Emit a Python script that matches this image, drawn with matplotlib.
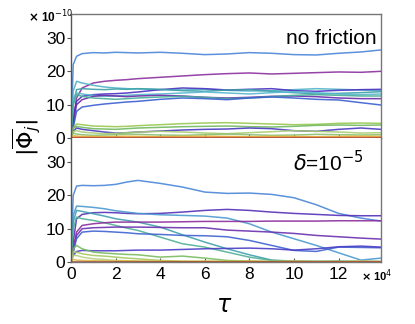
import numpy as np
import matplotlib
matplotlib.use("Agg")
import matplotlib.pyplot as plt

plt.rcParams['font.family'] = ['Liberation Sans', 'DejaVu Sans']
plt.rcParams['mathtext.fontset'] = 'dejavusans'

# time samples (x 10^4)
tau = [0, 0.1, 0.25, 0.5, 1, 1.5, 2, 2.5, 3, 4, 5, 6, 7, 8, 9, 10, 11, 12, 13, 13.9]

# no friction, |phi_j| (x 10^-10)
top_lines = [
    ('#4a86d8', [0, 22, 24.5, 25.3, 25.6, 25.5, 25.7, 25.6, 25.5, 25.7, 25.4, 25.0, 25.2, 25.6, 25.4, 25.0, 24.9, 25.4, 25.8, 26.4]),
    ('#8b2f9e', [0, 5, 12, 15, 16.5, 17, 17.3, 17.5, 17.8, 18.2, 18.6, 19.0, 19.3, 19.5, 19.2, 19.4, 19.6, 19.8, 19.7, 20.0]),
    ('#50b4c8', [0, 14, 17, 16.5, 15.8, 15.3, 15.0, 14.8, 14.7, 14.5, 14.4, 14.6, 14.3, 14.1, 14.2, 14.5, 14.8, 14.6, 14.4, 14.2]),
    ('#4a2fc0', [0, 6, 11, 12.5, 13, 13.2, 13.3, 13.5, 13.8, 14.5, 15.0, 14.8, 14.4, 14.6, 14.8, 14.2, 14.0, 14.3, 14.5, 14.6]),
    ('#3ea0a8', [0, 10, 14.5, 14.8, 14.6, 14.5, 14.7, 14.6, 14.8, 14.6, 14.2, 14.0, 14.4, 14.5, 14.0, 13.6, 13.2, 13.4, 13.6, 13.9]),
    ('#58b8d0', [0, 12, 13.5, 13.2, 12.8, 12.5, 12.6, 12.8, 13.0, 13.2, 13.5, 13.8, 13.5, 13.2, 13.6, 13.9, 13.6, 13.2, 13.0, 13.2]),
    ('#6a2aa8', [0, 4, 10, 11.5, 12.5, 12.8, 12.6, 12.4, 12.6, 12.8, 12.6, 12.2, 12.0, 12.2, 12.5, 12.6, 12.4, 12.0, 11.8, 11.8]),
    ('#48ae98', [0, 10, 13, 12.5, 12.0, 11.8, 11.6, 11.8, 12.0, 12.3, 12.5, 12.2, 11.8, 12.0, 12.4, 12.8, 13.0, 12.8, 12.6, 12.6]),
    ('#3a5ed0', [0, 3, 8, 9.3, 9.8, 10.2, 10.5, 10.8, 11.0, 11.6, 12.0, 11.8, 11.5, 12.0, 12.3, 12.0, 11.6, 11.4, 10.6, 9.9]),
    ('#98c850', [0, 3, 4.2, 4.0, 3.6, 3.5, 3.4, 3.5, 3.7, 4.0, 4.3, 4.5, 4.6, 4.4, 4.2, 4.0, 4.1, 4.4, 4.5, 4.4]),
    ('#70b860', [0, 3, 3.5, 3.2, 2.8, 2.7, 2.6, 2.8, 3.0, 3.2, 3.4, 3.5, 3.6, 3.4, 3.3, 3.5, 3.8, 3.9, 3.8, 3.9]),
    ('#4838c0', [0, 2, 3, 2.6, 2.2, 1.8, 1.5, 1.6, 1.8, 2.1, 2.4, 2.6, 2.7, 3.0, 2.8, 2.2, 2.0, 2.6, 3.0, 2.6]),
    ('#a8cc70', [0, 2, 2.2, 1.8, 1.5, 1.3, 1.4, 1.6, 1.8, 2.0, 1.8, 1.5, 1.3, 1.6, 1.9, 2.2, 2.0, 1.8, 1.5, 1.6]),
    ('#88c070', [0, 1.5, 1.2, 1.0, 0.8, 0.9, 1.0, 1.2, 1.1, 0.9, 0.8, 1.0, 1.2, 1.0, 0.8, 0.9, 1.1, 1.0, 0.9, 1.0]),
    ('#d8c050', [0, 0.8, 0.6, 0.5, 0.5, 0.4, 0.5, 0.6, 0.5, 0.4, 0.5, 0.6, 0.5, 0.4, 0.5, 0.5, 0.4, 0.5, 0.6, 0.5]),
    ('#e89030', [0, 0.3, 0.3, 0.25, 0.25, 0.25, 0.3, 0.25, 0.25, 0.3, 0.25, 0.25, 0.3, 0.25, 0.25, 0.3, 0.25, 0.25, 0.3, 0.25]),
    ('#c03020', [0.05] * 20),
]

# delta = 1e-5
bot_lines = [
    ('#4a86d8', [0, 20, 22.8, 23.0, 22.9, 23.0, 23.3, 24.0, 24.5, 23.6, 22.5, 21.0, 20.6, 20.7, 20.3, 19.3, 17.2, 14.6, 13.2, 12.3]),
    ('#5530b8', [0, 6, 13, 14.3, 14.8, 14.9, 14.8, 14.6, 14.5, 14.6, 15.0, 15.5, 15.8, 15.5, 15.0, 14.6, 14.3, 14.0, 13.9, 13.9]),
    ('#4a9ad0', [0, 14, 16.8, 16.7, 16.4, 16.0, 15.4, 15.0, 14.6, 14.2, 14.0, 13.8, 13.2, 11.5, 9.0, 7.0, 5.0, 2.8, 0.6, 1.2]),
    ('#40a0b0', [0, 12, 15.5, 15.2, 14.5, 13.8, 13.0, 12.5, 12.0, 10.5, 8.2, 6.0, 4.0, 2.2, 0.6, 0.3, 0.2, 0.3, 0.2, 0.2]),
    ('#50b098', [0, 10, 13.5, 13.0, 12.5, 11.8, 11.0, 10.2, 9.5, 7.5, 5.5, 4.5, 3.0, 1.5, 0.5, 0.2, 0.2, 0.1, 0.2, 0.1]),
    ('#8a2c9c', [0, 4, 9, 11.0, 11.5, 11.8, 12.0, 12.0, 12.0, 12.0, 12.1, 12.2, 12.2, 12.2, 12.3, 12.3, 12.3, 12.4, 12.4, 12.4]),
    ('#6b2fae', [0, 3, 8, 10.0, 10.3, 10.4, 10.5, 10.5, 10.5, 10.4, 10.3, 10.3, 9.6, 9.3, 9.0, 8.6, 8.0, 7.6, 7.2, 6.9]),
    ('#3f62d0', [0, 3, 7, 9.0, 9.3, 9.2, 9.0, 8.8, 8.5, 8.3, 8.0, 7.9, 7.6, 6.5, 5.0, 3.5, 3.2, 4.5, 4.4, 4.3]),
    ('#4a3cc6', [0, 2, 3.2, 3.5, 3.4, 3.4, 3.4, 3.5, 3.6, 3.6, 3.8, 4.0, 4.1, 4.2, 4.0, 3.6, 4.0, 4.6, 4.8, 4.5]),
    ('#78bc60', [0, 4, 5, 4.0, 3.0, 2.7, 2.5, 2.3, 2.2, 1.5, 1.8, 1.2, 0.5, 0.3, 0.2, 0.2, 0.1, 0.2, 0.1, 0.1]),
    ('#a8c860', [0, 3, 3.0, 2.5, 2.0, 1.8, 1.5, 1.2, 1.0, 0.5, 0.3, 0.2, 0.2, 0.1, 0.1, 0.1, 0.1, 0.1, 0.1, 0.1]),
    ('#b8d080', [0, 2, 2.0, 1.5, 1.0, 0.8, 0.5, 0.4, 0.3, 0.2, 0.1, 0.1, 0.1, 0.1, 0.1, 0.1, 0.1, 0.1, 0.1, 0.1]),
    ('#d8b848', [0, 0.8, 0.6, 0.5, 0.4, 0.4, 0.3, 0.4, 0.3, 0.3, 0.2, 0.3, 0.2, 0.3, 0.2, 0.3, 0.2, 0.2, 0.3, 0.2]),
    ('#a03018', [0.05] * 20),
]

yticks = [0, 10, 20, 30]
xticks = [0, 2, 4, 6, 8, 10, 12]

fig = plt.figure(figsize=(4.15, 3.24), dpi=100)
ax1 = fig.add_axes([0.171, 0.574, 0.747, 0.383])
ax2 = fig.add_axes([0.171, 0.191, 0.747, 0.383])

for ax, lines in [(ax1, top_lines), (ax2, bot_lines)]:
    for c, v in lines:
        ax.plot(tau, v, color=c, lw=1.1, alpha=0.9)
    ax.set_xlim(0, 13.9)
    ax.set_ylim(0, 37.2)
    ax.set_yticks(yticks)
    ax.set_xticks(xticks)
    ax.tick_params(axis='x', direction='in', length=3, color='#555555', labelsize=12.5)
    ax.tick_params(axis='y', direction='out', length=3, color='#555555', labelsize=12.5, pad=1)
    for s in ax.spines.values():
        s.set_color('#777777')
        s.set_linewidth(1.0)
    ax.spines['left'].set_color('#555555')

ax1.tick_params(axis='x', labelbottom=False)
ax2.spines['top'].set_visible(False)

ax1.text(0.985, 0.8, 'no friction', transform=ax1.transAxes, ha='right', va='center', fontsize=15)
ax2.text(0.945, 0.8, r'$\delta$=10$^{-5}$', transform=ax2.transAxes, ha='right', va='center', fontsize=15)

fig.text(0.065, 0.575, r'$|\overline{\Phi}_j|$', rotation=90, ha='center', va='center', fontsize=16)
fig.text(0.54, 0.055, r'$\tau$', ha='center', va='center', fontsize=17)
fig.text(0.068, 0.948, r'$\mathbf{\times}$ 10$^{-10}$', ha='left', va='center', fontsize=8.5, fontweight='bold')
fig.text(0.87, 0.15, r'$\mathbf{\times}$ 10$^{4}$', ha='left', va='center', fontsize=8, fontweight='bold')

fig.savefig('out.png', dpi=100)
